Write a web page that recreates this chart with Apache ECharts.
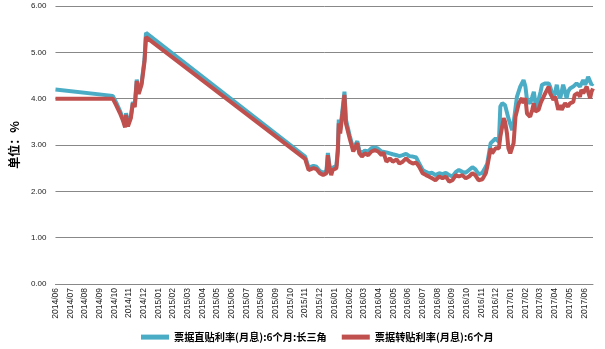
<!DOCTYPE html>
<html>
<head>
<meta charset="utf-8">
<script src="https://cdn.jsdelivr.net/npm/echarts@6/dist/echarts.min.js"></script>
<style>
  html, body { margin: 0; padding: 0; background: #fff; }
  #chart { width: 605px; height: 349px; }
</style>
</head>
<body>
<div id="chart"></div>
<script>
// Monthly tick labels along the time axis
const monthTicks = [
  '2014/06','2014/07','2014/08','2014/09','2014/10','2014/11','2014/12',
  '2015/01','2015/02','2015/03','2015/04','2015/05','2015/06','2015/07','2015/08','2015/09','2015/10','2015/11','2015/12',
  '2016/01','2016/02','2016/03','2016/04','2016/05','2016/06','2016/07','2016/08','2016/09','2016/10','2016/11','2016/12',
  '2017/01','2017/02','2017/03','2017/04','2017/05','2017/06'
];

const yTicks = [0, 1, 2, 3, 4, 5, 6];

// 票据直贴利率(月息):6个月:长三角
const zhitieDates = [
  '2014-06-01','2014-09-28','2014-10-05','2014-10-13','2014-10-19','2014-10-24','2014-10-26','2014-10-30',
  '2014-11-05','2014-11-09','2014-11-13','2014-11-17','2014-11-21','2014-11-27','2014-12-03','2014-12-06',
  '2015-11-01','2015-11-08','2015-11-11','2015-11-18','2015-11-24','2015-12-01','2015-12-08','2015-12-15',
  '2015-12-18','2015-12-21','2015-12-25','2015-12-28','2016-01-05','2016-01-08','2016-01-10','2016-01-13',
  '2016-01-17','2016-01-22','2016-01-25','2016-02-02','2016-02-09','2016-02-12','2016-02-17','2016-02-21',
  '2016-02-26','2016-03-03','2016-03-10','2016-03-17','2016-03-24','2016-03-31','2016-04-07','2016-04-11',
  '2016-04-17','2016-04-24','2016-04-30','2016-05-08','2016-05-14','2016-05-21','2016-05-28','2016-06-04',
  '2016-06-11','2016-06-18','2016-06-24','2016-07-01','2016-07-08','2016-07-14','2016-07-21','2016-07-28',
  '2016-08-05','2016-08-12','2016-08-19','2016-08-26','2016-09-02','2016-09-09','2016-09-15','2016-09-22',
  '2016-09-29','2016-10-06','2016-10-13','2016-10-19','2016-10-26','2016-11-03','2016-11-10','2016-11-13',
  '2016-11-16','2016-11-20','2016-11-23','2016-11-30','2016-12-07','2016-12-10','2016-12-14','2016-12-20',
  '2016-12-27','2017-01-04','2017-01-07','2017-01-14','2017-01-21','2017-01-28','2017-02-01','2017-02-04',
  '2017-02-10','2017-02-14','2017-02-17','2017-02-20','2017-02-23','2017-02-26','2017-03-02','2017-03-05',
  '2017-03-12','2017-03-19','2017-03-22','2017-03-26','2017-03-29','2017-04-02','2017-04-05','2017-04-08',
  '2017-04-12','2017-04-15','2017-04-18','2017-04-22','2017-04-25','2017-04-28','2017-05-02','2017-05-09',
  '2017-05-16','2017-05-19','2017-05-23','2017-05-26','2017-05-30','2017-06-03','2017-06-06','2017-06-09',
  '2017-06-13','2017-06-16','2017-06-19'
];
const zhitieRates = [
  4.20, 4.06, 3.92, 3.74, 3.58, 3.42, 3.69, 3.45,
  3.62, 3.93, 3.86, 4.41, 4.13, 4.35, 4.86, 5.42,
  2.75, 2.51, 2.47, 2.55, 2.53, 2.44, 2.40, 2.44,
  2.83, 2.58, 2.40, 2.51, 2.55, 2.92, 3.55, 3.33,
  3.68, 4.15, 3.55, 3.20, 2.92, 2.88, 3.08, 2.88,
  2.82, 2.88, 2.86, 2.93, 2.95, 2.92, 2.86, 2.89,
  2.84, 2.82, 2.80, 2.78, 2.76, 2.78, 2.81, 2.76,
  2.75, 2.73, 2.60, 2.46, 2.42, 2.39, 2.40, 2.35,
  2.39, 2.37, 2.40, 2.35, 2.32, 2.42, 2.46, 2.42,
  2.40, 2.46, 2.52, 2.48, 2.37, 2.40, 2.53, 2.60,
  2.64, 3.04, 3.00, 3.14, 3.07, 3.83, 3.90, 3.86,
  3.58, 3.32, 3.47, 4.04, 4.26, 4.40, 4.26, 3.97,
  3.90, 4.04, 4.15, 3.90, 3.76, 3.97, 4.15, 4.30,
  4.33, 4.33, 4.26, 4.12, 4.01, 4.15, 4.30, 4.12,
  4.01, 4.15, 4.30, 4.15, 4.01, 4.15, 4.22, 4.26,
  4.33, 4.37, 4.26, 4.30, 4.40, 4.30, 4.37, 4.47,
  4.51, 4.30, 4.33
];

// 票据转贴利率(月息):6个月
const zhuantieDates = [
  '2014-06-01','2014-09-28','2014-10-05','2014-10-13','2014-10-19','2014-10-24','2014-10-26','2014-10-30',
  '2014-11-05','2014-11-09','2014-11-13','2014-11-17','2014-11-21','2014-11-27','2014-12-03','2014-12-06',
  '2015-11-01','2015-11-08','2015-11-11','2015-11-18','2015-11-24','2015-12-01','2015-12-08','2015-12-15',
  '2015-12-18','2015-12-21','2015-12-25','2015-12-28','2016-01-05','2016-01-08','2016-01-10','2016-01-13',
  '2016-01-17','2016-01-22','2016-01-25','2016-02-02','2016-02-09','2016-02-12','2016-02-17','2016-02-21',
  '2016-02-26','2016-03-03','2016-03-10','2016-03-17','2016-03-24','2016-03-31','2016-04-07','2016-04-11',
  '2016-04-17','2016-04-24','2016-04-30','2016-05-08','2016-05-14','2016-05-21','2016-05-28','2016-06-04',
  '2016-06-11','2016-06-18','2016-06-24','2016-07-01','2016-07-08','2016-07-14','2016-07-21','2016-07-28',
  '2016-08-05','2016-08-12','2016-08-19','2016-08-26','2016-09-02','2016-09-09','2016-09-15','2016-09-22',
  '2016-09-29','2016-10-06','2016-10-13','2016-10-19','2016-10-26','2016-11-03','2016-11-10','2016-11-13',
  '2016-11-16','2016-11-20','2016-11-23','2016-11-30','2016-12-07','2016-12-10','2016-12-14','2016-12-17',
  '2016-12-20','2016-12-24','2016-12-27','2016-12-31','2017-01-04','2017-01-07','2017-01-11','2017-01-18',
  '2017-01-25','2017-01-28','2017-02-01','2017-02-04','2017-02-10','2017-02-14','2017-02-17','2017-02-20',
  '2017-02-23','2017-02-26','2017-03-02','2017-03-05','2017-03-12','2017-03-19','2017-03-22','2017-03-26',
  '2017-03-29','2017-04-02','2017-04-05','2017-04-08','2017-04-12','2017-04-15','2017-04-22','2017-04-28',
  '2017-05-02','2017-05-09','2017-05-12','2017-05-16','2017-05-19','2017-05-23','2017-05-26','2017-05-30',
  '2017-06-03','2017-06-06','2017-06-09','2017-06-13','2017-06-16','2017-06-19'
];
const zhuantieRates = [
  4.00, 4.00, 3.86, 3.69, 3.54, 3.38, 3.65, 3.40,
  3.58, 3.90, 3.82, 4.38, 4.10, 4.31, 4.80, 5.33,
  2.70, 2.46, 2.42, 2.50, 2.48, 2.39, 2.35, 2.39,
  2.78, 2.53, 2.35, 2.46, 2.50, 2.86, 3.47, 3.25,
  3.61, 4.08, 3.47, 3.14, 2.86, 2.82, 3.04, 2.82,
  2.75, 2.82, 2.78, 2.86, 2.89, 2.86, 2.78, 2.84,
  2.64, 2.71, 2.64, 2.69, 2.60, 2.64, 2.71, 2.64,
  2.60, 2.62, 2.53, 2.39, 2.35, 2.32, 2.28, 2.24,
  2.32, 2.28, 2.32, 2.21, 2.24, 2.35, 2.32, 2.35,
  2.28, 2.32, 2.39, 2.35, 2.24, 2.26, 2.39, 2.53,
  2.57, 2.93, 2.82, 2.93, 2.93, 3.18, 3.40, 3.58,
  3.50, 3.25, 2.93, 2.82, 2.78, 3.04, 3.61, 3.90,
  4.01, 3.90, 4.01, 3.68, 3.61, 3.76, 3.90, 3.72,
  3.68, 3.76, 3.90, 3.97, 4.12, 4.26, 4.12, 4.04,
  3.97, 4.04, 3.90, 3.76, 3.86, 3.76, 3.90, 3.83,
  3.90, 3.93, 4.08, 4.04, 4.12, 4.04, 4.19, 4.12,
  4.19, 4.26, 4.30, 4.01, 4.15, 4.22
];

// Convert a date string into a fractional month position, 0 = 2014/06/01
function monthPos(s) {
  const [y, m, d] = s.split('-').map(Number);
  const days = new Date(y, m, 0).getDate();
  return (y - 2014) * 12 + (m - 6) + (d - 1) / days;
}

function pairs(dates, values) {
  return dates.map((d, i) => [monthPos(d), values[i]]);
}

const zhitieData = pairs(zhitieDates, zhitieRates);
const zhuantieData = pairs(zhuantieDates, zhuantieRates);
const xMax = Math.max(zhitieData[zhitieData.length - 1][0], zhuantieData[zhuantieData.length - 1][0]);

const chart = echarts.init(document.getElementById('chart'), null, { renderer: 'canvas' });

chart.setOption({
  animation: false,
  backgroundColor: '#ffffff',
  grid: { left: 51, right: 12, top: 6, bottom: 65, containLabel: false },
  legend: {
    left: 136,
    top: 327,
    itemGap: 15,
    itemWidth: 28,
    itemHeight: 5,
    icon: 'rect',
    textStyle: {
      fontFamily: '"Noto Sans CJK SC", sans-serif',
      fontWeight: 'bold',
      fontSize: 10.2,
      color: '#000'
    },
    data: ['票据直贴利率(月息):6个月:长三角', '票据转贴利率(月息):6个月']
  },
  xAxis: {
    type: 'value',
    min: 0,
    max: xMax,
    interval: 1,
    splitLine: { show: false },
    axisTick: { show: false },
    axisLine: { show: true, lineStyle: { color: '#888', width: 1 } },
    axisLabel: {
      rotate: 90,
      fontSize: 8.5,
      margin: 4,
      color: '#222',
      fontFamily: '"Liberation Sans", Arial, sans-serif',
      showMaxLabel: false,
      formatter: function (v) {
        const i = Math.round(v);
        if (Math.abs(v - i) > 1e-6) return '';
        return monthTicks[i] || '';
      }
    }
  },
  yAxis: {
    type: 'value',
    min: yTicks[0],
    max: yTicks[yTicks.length - 1],
    interval: 1,
    name: '单位：%',
    nameLocation: 'middle',
    nameRotate: 90,
    nameGap: 22,
    nameTextStyle: {
      fontFamily: '"Noto Sans CJK SC", serif',
      fontWeight: 'bold',
      fontSize: 12,
      color: '#000'
    },
    axisLine: { show: false },
    axisTick: { show: false },
    splitLine: { lineStyle: { color: '#888', width: 1 } },
    axisLabel: {
      fontSize: 8,
      color: '#222',
      margin: 9,
      fontFamily: '"Liberation Sans", Arial, sans-serif',
      formatter: v => v.toFixed(2)
    }
  },
  series: [
    {
      name: '票据直贴利率(月息):6个月:长三角',
      type: 'line',
      data: zhitieData,
      showSymbol: false,
      symbol: 'none',
      lineStyle: { color: '#4bacc6', width: 4 },
      itemStyle: { color: '#4bacc6' }
    },
    {
      name: '票据转贴利率(月息):6个月',
      type: 'line',
      data: zhuantieData,
      showSymbol: false,
      symbol: 'none',
      lineStyle: { color: '#c0504d', width: 4 },
      itemStyle: { color: '#c0504d' }
    }
  ]
});
</script>
</body>
</html>
